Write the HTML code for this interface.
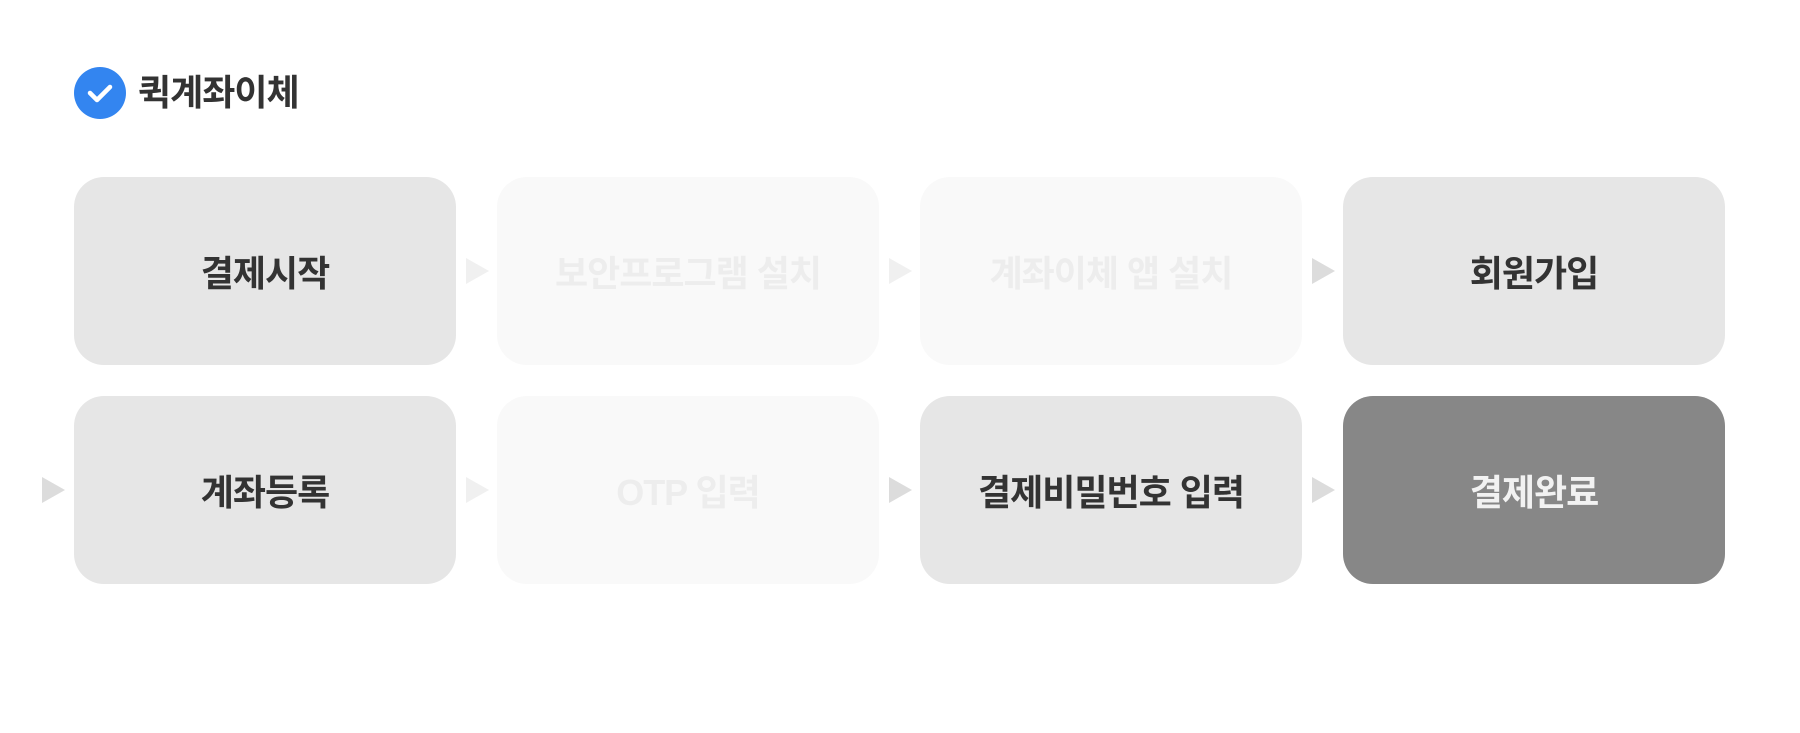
<!DOCTYPE html>
<html><head><meta charset="utf-8"><style>
body{margin:0;width:1800px;height:733px;background:#fff;position:relative;overflow:hidden;font-family:"Liberation Sans","Noto Sans CJK KR",sans-serif}
.c{position:absolute;left:74px;top:67px;width:52px;height:52px;border-radius:50%;background:#3385f0}
.t{position:absolute;left:138px;top:70px;font-size:36px;font-weight:700;color:#333;letter-spacing:-1px;line-height:46px}
.b{position:absolute;width:382px;height:188px;border-radius:30px;background:#e6e6e6;display:flex;align-items:center;justify-content:center;font-size:36px;font-weight:700;color:#333;letter-spacing:-1px}
.f{background:#f9f9f9;color:#ededed}
.d{background:#878787;color:#f2f2f2}
.a{position:absolute;width:0;height:0;border-top:13px solid transparent;border-bottom:13px solid transparent;border-left:23px solid #dcdcdc}
.a.l{border-left-color:#f0f0f0}
</style></head><body>
<div class="c"><svg width="52" height="52"><path d="M16 26 L23 33 L36 20" stroke="#fff" stroke-width="4.5" fill="none" stroke-linecap="round" stroke-linejoin="round"/></svg></div>
<div class="t">퀵계좌이체</div>
<div class="b" style="left:74px;top:177px">결제시작</div>
<div class="b f" style="left:497px;top:177px">보안프로그램 설치</div>
<div class="b f" style="left:920px;top:177px">계좌이체 앱 설치</div>
<div class="b" style="left:1343px;top:177px">회원가입</div>
<div class="b" style="left:74px;top:396px">계좌등록</div>
<div class="b f" style="left:497px;top:396px">OTP 입력</div>
<div class="b" style="left:920px;top:396px">결제비밀번호 입력</div>
<div class="b d" style="left:1343px;top:396px">결제완료</div>
<div class="a l" style="left:466px;top:258px"></div>
<div class="a l" style="left:889px;top:258px"></div>
<div class="a" style="left:1312px;top:258px"></div>
<div class="a" style="left:42px;top:477px"></div>
<div class="a l" style="left:466px;top:477px"></div>
<div class="a" style="left:889px;top:477px"></div>
<div class="a" style="left:1312px;top:477px"></div>
</body></html>
